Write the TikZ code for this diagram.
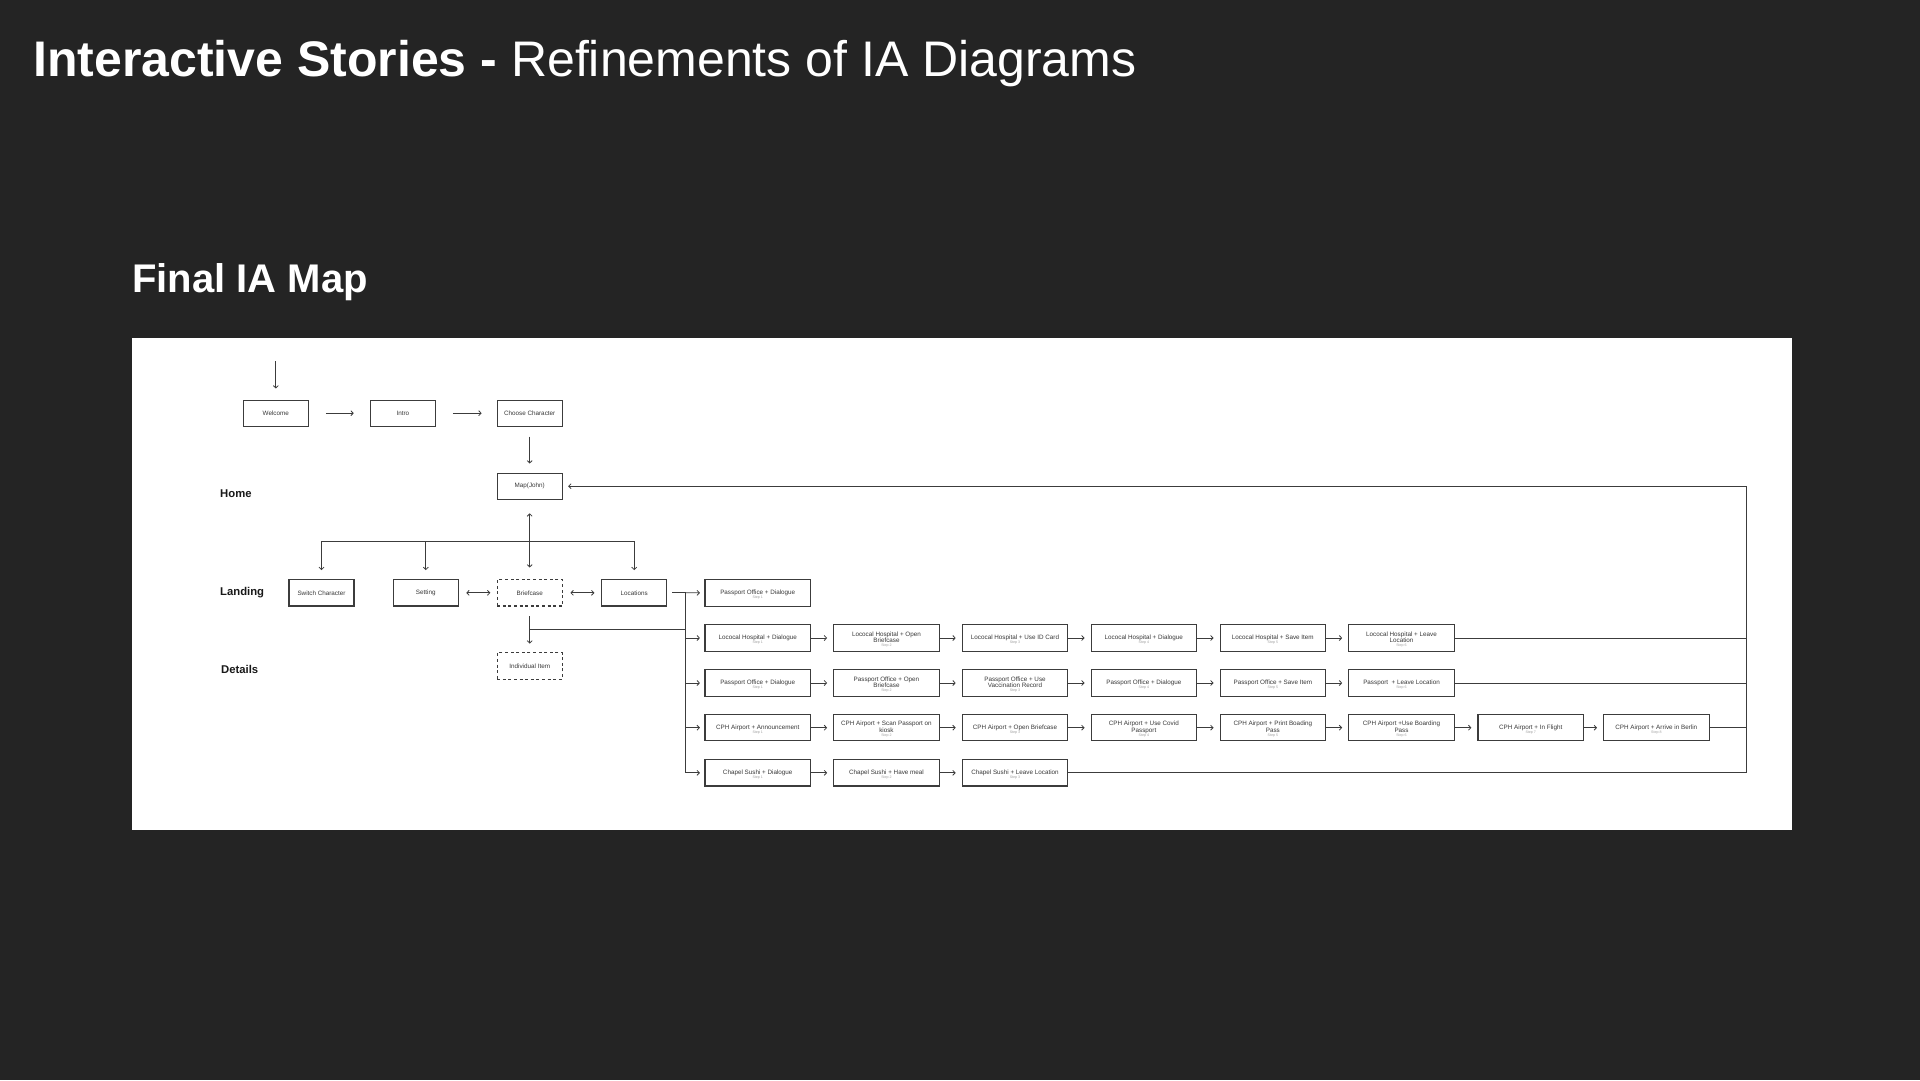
\documentclass[tikz,border=0pt]{standalone}
\usepackage{fontspec}
\setmainfont{Liberation Sans}
\usetikzlibrary{arrows.meta}
\definecolor{bg}{HTML}{242424}
\definecolor{ln}{HTML}{3C3C3C}
\definecolor{tx}{HTML}{383838}
\definecolor{stc}{HTML}{A0A0A0}
\newcommand{\stp}[1]{\\[-2.6pt]{\fontsize{3.6}{3.8}\selectfont\color{stc}#1}}
\newcommand{\tstr}{\rule{0pt}{7.6pt}}
\begin{document}
\begin{tikzpicture}[x=1pt,y=-1pt,
  box/.style={draw=ln, line width=1.1pt, fill=white, minimum width=105.5pt, minimum height=26.3pt, inner sep=0.5pt, align=center, font=\fontsize{6.3}{6.6}\selectfont, text=tx},
  tbox/.style={box, minimum width=65pt},
  dbox/.style={tbox, dash pattern=on 3pt off 2.6pt},
  conn/.style={draw=ln, line width=0.8pt},
  arr/.style={conn, -{Straight Barb[length=2.4pt,width=5pt]}},
  darr/.style={conn, {Straight Barb[length=2.4pt,width=5pt]}-{Straight Barb[length=2.4pt,width=5pt]}},
  lab/.style={anchor=base west, inner sep=0pt, font=\fontsize{11.3}{12}\selectfont\bfseries, text=black!90}
]
\useasboundingbox (0,0) rectangle (1920,1080);
\fill[bg] (0,0) rectangle (1920,1080);

% titles
\node[anchor=base west, inner sep=0pt, text=white, font=\fontsize{50}{54}\selectfont] (title) at (33,76) {\textbf{Interactive Stories -} Refinements of IA Diagrams};
\node[anchor=base west, inner sep=0pt, text=white, font=\fontsize{40}{44}\selectfont\bfseries] (sub) at (132,292.7) {Final IA Map};

% panel
\fill[white] (132.3,338.3) rectangle (1791.5,830);

% row labels
\node[lab] (home) at (220,497.5) {Home};
\node[lab] (landing) at (220,595.2) {Landing};
\node[lab] (details) at (221,673.5) {Details};

% top flow
\coordinate (start) at (275.8,361);
\node[tbox] (welcome) at (275.8,413.2) {Welcome};
\node[tbox] (intro) at (402.8,413.2) {Intro};
\node[tbox] (choose) at (529.7,413.2) {Choose Character};
\node[tbox] (map) at (529.7,486.2) {Map(John)};
\node[tbox] (switch) at (321.5,592.8) {Switch Character};
\node[tbox] (setting) at (425.8,592.8) {Setting};
\node[dbox] (brief) at (529.7,592.8) {Briefcase};
\node[tbox] (loc) at (634.2,592.8) {Locations};
\node[dbox] (item) at (529.7,666) {Individual Item};

\draw[arr, shorten >=11pt] (start) -- (welcome);
\draw[arr, shorten <=17pt, shorten >=16pt] (welcome) -- (intro);
\draw[arr, shorten <=17pt, shorten >=15pt] (intro) -- (choose);
\draw[arr, shorten <=9.7pt, shorten >=9pt] (choose) -- (map);
\draw[darr, shorten <=13.4pt, shorten >=11.6pt] (map) -- (brief);
\coordinate (hb) at (529.7,541.3);
\draw[arr, shorten >=9pt] (hb) -| (switch);
\draw[arr, shorten >=9pt] (hb) -| (setting);
\draw[arr, shorten >=9pt] (hb) -| (loc);
\draw[darr, shorten <=7.4pt, shorten >=6.3pt] (setting) -- (brief);
\draw[darr, shorten <=7.7pt, shorten >=6.7pt] (brief) -- (loc);
\draw[arr, shorten <=9.7pt, shorten >=8.7pt] (brief) -- (item);

% location bus
\coordinate (lb) at (685.7,592.8);
\coordinate (lbb) at (685.7,772.8);
\coordinate (bj) at (529.7,629);
\draw[conn] (bj) -- (bj -| lb);
\draw[conn] (lb) -- (lbb);

% row 0
\node[box] (a1) at (757.75,593) {\tstr Passport Office + Dialogue\stp{Step 1}};
% row 1
\node[box] (b1) at (757.75,638) {\tstr Lococal Hospital + Dialogue\stp{Step 1}};
\node[box] (b2) at (886.45,638) {\tstr Lococal Hospital + Open\\Briefcase\stp{Step 2}};
\node[box] (b3) at (1015,638) {\tstr Lococal Hospital + Use ID Card\stp{Step 3}};
\node[box] (b4) at (1143.85,638) {\tstr Lococal Hospital + Dialogue\stp{Step 4}};
\node[box] (b5) at (1272.85,638) {\tstr Lococal Hospital + Save Item\stp{Step 5}};
\node[box] (b6) at (1401.5,638) {\tstr Lococal Hospital + Leave\\Location\stp{Step 6}};
% row 2
\node[box] (c1) at (757.75,683) {\tstr Passport Office + Dialogue\stp{Step 1}};
\node[box] (c2) at (886.45,683) {\tstr Passport Office + Open\\Briefcase\stp{Step 2}};
\node[box] (c3) at (1015,683) {\tstr Passport Office + Use\\Vaccination Record\stp{Step 3}};
\node[box] (c4) at (1143.85,683) {\tstr Passport Office + Dialogue\stp{Step 4}};
\node[box] (c5) at (1272.85,683) {\tstr Passport Office + Save Item\stp{Step 5}};
\node[box] (c6) at (1401.5,683) {\tstr Passport\ \ + Leave Location\stp{Step 6}};
% row 3
\node[box] (d1) at (757.75,727.7) {\tstr CPH Airport + Announcement\stp{Step 1}};
\node[box] (d2) at (886.45,727.7) {\tstr CPH Airport + Scan Passport on\\kiosk\stp{Step 2}};
\node[box] (d3) at (1015,727.7) {\tstr CPH Airport + Open Briefcase\stp{Step 3}};
\node[box] (d4) at (1143.85,727.7) {\tstr CPH Airport + Use Covid\\Passport\stp{Step 4}};
\node[box] (d5) at (1272.85,727.7) {\tstr CPH Airport + Print Boading\\Pass\stp{Step 5}};
\node[box] (d6) at (1401.5,727.7) {\tstr CPH Airport +Use Boarding\\Pass\stp{Step 6}};
\node[box] (d7) at (1530.7,727.7) {\tstr CPH Airport + In Flight\stp{Step 7}};
\node[box] (d8) at (1656.3,727.7) {\tstr CPH Airport + Arrive in Berlin\stp{Step 8}};
% row 4
\node[box] (e1) at (757.75,772.8) {\tstr Chapel Sushi + Dialogue\stp{Step 1}};
\node[box] (e2) at (886.45,772.8) {\tstr Chapel Sushi + Have meal\stp{Step 2}};
\node[box] (e3) at (1015,772.8) {\tstr Chapel Sushi + Leave Location\stp{Step 3}};

% branches from bus
\draw[conn, shorten <=5pt] (loc) -- (lb);
\draw[arr, shorten >=4.5pt] (lb) -- (a1);
\draw[arr, shorten >=4.5pt] (b1 -| lb) -- (b1);
\draw[arr, shorten >=4.5pt] (c1 -| lb) -- (c1);
\draw[arr, shorten >=4.5pt] (d1 -| lb) -- (d1);
\draw[arr, shorten >=4.5pt] (lbb) -- (e1);

% step arrows
\foreach \p/\q in {b1/b2,b2/b3,b3/b4,b4/b5,b5/b6,c1/c2,c2/c3,c3/c4,c4/c5,c5/c6,d1/d2,d2/d3,d3/d4,d4/d5,d5/d6,d6/d7,d7/d8,e1/e2,e2/e3}
  \draw[arr, shorten >=6pt] (\p) -- (\q);

% return bus
\coordinate (rt) at (1746,486.2);
\draw[conn] (e3.east) -| (rt);
\draw[conn] (b6.east) -- (b6.east -| rt);
\draw[conn] (c6.east) -- (c6.east -| rt);
\draw[conn] (d8.east) -- (d8.east -| rt);
\draw[arr, shorten >=5.4pt] (rt) -- (map);
\end{tikzpicture}
\end{document}
